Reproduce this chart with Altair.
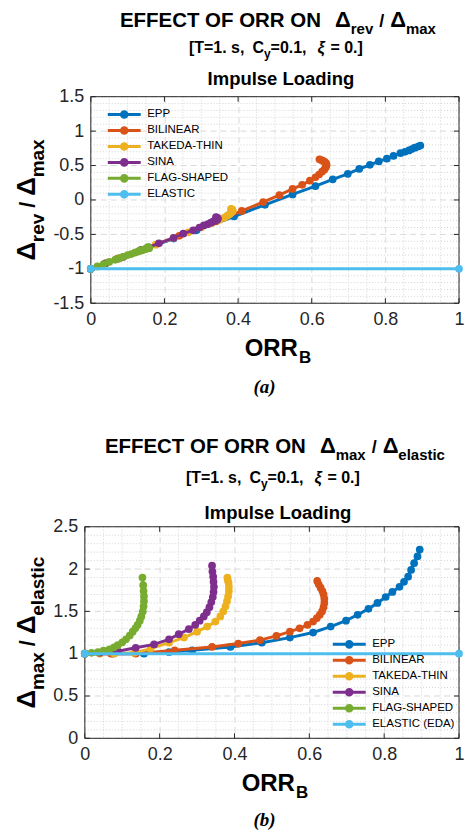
import altair as alt
import pandas as pd

SANS = "Liberation Sans"
SERIF = "Liberation Serif"

# ---------------- data ----------------
names_a = ["EPP", "BILINEAR", "TAKEDA-THIN", "SINA", "FLAG-SHAPED", "ELASTIC"]
names_b = ["EPP", "BILINEAR", "TAKEDA-THIN", "SINA", "FLAG-SHAPED", "ELASTIC (EDA)"]
colors = ["#0072BD", "#D95319", "#EDB120", "#7E2F8E", "#77AC30", "#4DBEEE"]

epp_x = [0.0, 0.075, 0.158, 0.225, 0.287, 0.389, 0.473, 0.548, 0.61, 0.657, 0.698, 0.729,
         0.758, 0.782, 0.804, 0.822, 0.841, 0.853, 0.864, 0.872, 0.88, 0.889, 0.895]
epp_ya = [-1.0, -0.85, -0.69, -0.56, -0.44, -0.24, -0.07, 0.08, 0.20, 0.30, 0.38, 0.45,
          0.51, 0.56, 0.60, 0.64, 0.68, 0.70, 0.72, 0.74, 0.76, 0.775, 0.79]
epp_yb = [1.0, 1.0, 1.0, 1.02, 1.04, 1.08, 1.13, 1.19, 1.25, 1.32, 1.39, 1.46,
          1.53, 1.60, 1.67, 1.73, 1.79, 1.85, 1.91, 1.99, 2.07, 2.15, 2.23]

bil_x = [0.0, 0.07, 0.136, 0.24, 0.34, 0.41, 0.468, 0.512, 0.548, 0.574, 0.595, 0.61,
         0.62, 0.628, 0.634, 0.638, 0.64, 0.64, 0.638, 0.635, 0.63, 0.625, 0.621]
bil_ya = [-1.0, -0.86, -0.73, -0.52, -0.31, -0.16, -0.03, 0.07, 0.16, 0.22, 0.28, 0.33,
          0.37, 0.41, 0.44, 0.47, 0.50, 0.52, 0.54, 0.555, 0.57, 0.58, 0.59]
bil_yb = [1.0, 1.0, 1.0, 1.04, 1.08, 1.12, 1.16, 1.21, 1.26, 1.30, 1.34, 1.38,
          1.42, 1.46, 1.50, 1.55, 1.60, 1.65, 1.70, 1.74, 1.78, 1.82, 1.86]

tak_x = [0.0, 0.04, 0.079, 0.132, 0.176, 0.225, 0.265, 0.30, 0.327, 0.349, 0.362, 0.37,
         0.376, 0.38, 0.383, 0.385, 0.385, 0.384, 0.382, 0.381]
tak_ya = [-1.0, -0.92, -0.84, -0.74, -0.65, -0.55, -0.47, -0.40, -0.34, -0.29, -0.26, -0.23,
          -0.21, -0.19, -0.17, -0.16, -0.15, -0.14, -0.135, -0.13]
tak_yb = [1.0, 1.0, 1.0, 1.01, 1.06, 1.13, 1.19, 1.26, 1.32, 1.38, 1.44, 1.50,
          1.56, 1.62, 1.68, 1.74, 1.79, 1.84, 1.87, 1.90]

sina_x = [0.0, 0.04, 0.088, 0.136, 0.185, 0.225, 0.251, 0.278, 0.295, 0.307, 0.318, 0.326,
          0.333, 0.338, 0.342, 0.344, 0.345, 0.344, 0.343, 0.341, 0.34]
sina_ya = [-1.0, -0.92, -0.83, -0.73, -0.63, -0.55, -0.49, -0.44, -0.40, -0.37, -0.35, -0.33,
           -0.31, -0.30, -0.29, -0.28, -0.27, -0.265, -0.26, -0.255, -0.25]
sina_yb = [1.0, 1.01, 1.03, 1.07, 1.11, 1.17, 1.23, 1.29, 1.34, 1.39, 1.44, 1.49,
           1.55, 1.61, 1.67, 1.73, 1.79, 1.85, 1.91, 1.97, 2.04]

flag_x = [0.0, 0.018, 0.035, 0.05, 0.066, 0.078, 0.088, 0.10, 0.11, 0.12, 0.128, 0.135,
          0.141, 0.147, 0.151, 0.155, 0.157, 0.158, 0.158, 0.157, 0.156, 0.154]
flag_ya = [-1.0, -0.965, -0.93, -0.90, -0.87, -0.845, -0.825, -0.80, -0.785, -0.765, -0.75, -0.735,
           -0.725, -0.715, -0.71, -0.705, -0.70, -0.70, -0.695, -0.695, -0.69, -0.69]
flag_yb = [1.0, 1.01, 1.02, 1.035, 1.05, 1.075, 1.10, 1.135, 1.17, 1.215, 1.26, 1.30,
           1.34, 1.39, 1.44, 1.50, 1.56, 1.62, 1.68, 1.74, 1.81, 1.90]

ela_x = [0.0, 1.0]
ela_ya = [-1.0, -1.0]
ela_yb = [1.0, 1.0]

xs = [epp_x, bil_x, tak_x, sina_x, flag_x, ela_x]
ys_a = [epp_ya, bil_ya, tak_ya, sina_ya, flag_ya, ela_ya]
ys_b = [epp_yb, bil_yb, tak_yb, sina_yb, flag_yb, ela_yb]

x_ticks = [0, 0.2, 0.4, 0.6, 0.8, 1]
ya_ticks = [-1.5, -1, -0.5, 0, 0.5, 1, 1.5]
yb_ticks = [0, 0.5, 1, 1.5, 2, 2.5]

minor_x = [round(k * 0.05, 2) for k in range(1, 20) if k % 4]
minor_ya = [round(-1.5 + k * 0.1, 2) for k in range(1, 30) if k % 5]
minor_yb = [round(k * 0.1, 2) for k in range(1, 25) if k % 5]

# ---------------- helpers ----------------
CW = {'A': .722, 'B': .722, 'C': .722, 'D': .722, 'E': .667, 'F': .611, 'G': .778, 'H': .722,
      'I': .278, 'L': .611, 'M': .833, 'N': .722, 'O': .778, 'P': .667, 'R': .722, 'S': .667,
      'T': .611, 'a': .556, 'c': .556, 'd': .611, 'e': .556, 'g': .611, 'i': .278, 'l': .278,
      'm': .889, 'n': .611, 'o': .611, 'p': .611, 'r': .389, 's': .556, 't': .333, 'u': .611,
      'v': .556, 'x': .556, 'y': .556, '0': .556, '1': .556, ' ': .278, '.': .278, ',': .278,
      '=': .584, '[': .333, ']': .333, '/': .278, 'Δ': .67, 'ξ': .5}


def textw(s, size):
    return sum(CW.get(c, 0.6) for c in s) * size


ONE = pd.DataFrame({"k": [0]})


def txt(text, x, y, size, angle=0, align="left", font=SANS, weight="bold",
        style="normal", color="black"):
    return alt.Chart(ONE).mark_text(
        text=text, x=x, y=y, fontSize=size, fontWeight=weight, fontStyle=style,
        font=font, angle=angle, align=align, baseline="alphabetic", color=color
    ).encode(opacity=alt.value(1))


def hchain(pieces, cx, y):
    total = sum(p[3] + textw(p[0], p[1]) for p in pieces)
    x = cx - total / 2
    out = []
    for p in pieces:
        t, s, dy, g = p[:4]
        st = p[4] if len(p) > 4 else "normal"
        x += g
        out.append(txt(t, x, y + dy, s, style=st))
        x += textw(t, s)
    return out


def vchain(pieces, cy, x):
    total = sum(p[3] + textw(p[0], p[1]) for p in pieces)
    y = cy + total / 2
    out = []
    for t, s, dx, g in pieces:
        y -= g
        out.append(txt(t, x + dx, y, s, angle=270))
        y -= textw(t, s)
    return out


LEG_PATH = ("M-1,0L1,0M0.17,0A0.17,0.17,0,1,1,-0.17,0A0.17,0.17,0,1,1,0.17,0"
            "M0.07,0A0.07,0.07,0,1,1,-0.07,0A0.07,0.07,0,1,1,0.07,0")
GRID = "#d4d4d4"
MAJ = "#d9d9d9"
AX = "#262626"
OX = 91      # page x of the common group origin
RIGHT = 460  # page x of the plot's right edge
W = RIGHT - OX

AXIS_STYLE = dict(title=None, labelFlush=False, labelOverlap=False,
                  labelExpr="toString(datum.value)", labelFont=SANS, labelFontSize=18,
                  labelColor=AX, domain=False, ticks=False, gridColor=MAJ,
                  gridDash=[6, 4], gridWidth=1)


def panel(ys, names, ydom, yticks, yminor, left, oy, H, leg_page, title_pcs, ytitle_pcs,
          caption, cap_y, title_y, sub_y, imp_y, top_page, bottom_page):
    L = left - OX  # plot left edge relative to origin (<= 0)
    xsc = alt.Scale(domain=[0, 1], nice=False, zero=False, range=[L, W])
    ysc = alt.Scale(domain=ydom, nice=False, zero=False)
    csc = alt.Scale(domain=names, range=colors)
    leg = alt.Legend(title=None, orient="none", legendX=leg_page[0] - OX,
                     legendY=leg_page[1] - oy,
                     symbolType=LEG_PATH, symbolSize=1089, symbolStrokeWidth=3,
                     clipHeight=15.7, rowPadding=0, padding=3,
                     labelFont=SANS, labelFontSize=11.5, labelColor="black",
                     labelOffset=5, labelLimit=300)
    xax = alt.Axis(values=x_ticks, labelPadding=7, grid=True, **AXIS_STYLE)
    yax = alt.Axis(values=yticks, labelPadding=7, grid=False, offset=-L, **AXIS_STYLE)

    def X(f):
        return alt.X(f, type="quantitative", scale=xsc, axis=xax, title=None)

    def Y(f):
        return alt.Y(f, type="quantitative", scale=ysc, axis=yax, title=None)

    layers = []
    layers.append(alt.Chart(pd.DataFrame({"v": minor_x})).mark_rule(
        color=GRID, strokeDash=[1, 2], strokeWidth=1).encode(x=X("v")))
    layers.append(alt.Chart(pd.DataFrame({"v": yminor})).mark_rule(
        color=GRID, strokeDash=[1, 2], strokeWidth=1).encode(
        y=Y("v"), x=alt.value(L), x2=alt.value(W)))
    tx = pd.DataFrame({"v": x_ticks})
    ty = pd.DataFrame({"v": yticks})
    layers.append(alt.Chart(ty).mark_rule(
        color=MAJ, strokeDash=[6, 4], strokeWidth=1).encode(
        y=Y("v"), x=alt.value(L), x2=alt.value(W)))
    for a, b in [(H, H - 5), (0, 5)]:
        layers.append(alt.Chart(tx).mark_rule(color=AX, strokeWidth=1).encode(
            x=X("v"), y=alt.value(a), y2=alt.value(b)))
    for a, b in [(L, L + 5), (W - 5, W)]:
        layers.append(alt.Chart(ty).mark_rule(color=AX, strokeWidth=1).encode(
            y=Y("v"), x=alt.value(a), x2=alt.value(b)))
    # plot frame (box)
    for xa, xb, ya, yb in [(L, L, 0, H), (W, W, 0, H), (L, W, 0, 0), (L, W, H, H)]:
        layers.append(alt.Chart(ONE).mark_rule(color=AX, strokeWidth=1).encode(
            x=alt.value(xa), x2=alt.value(xb), y=alt.value(ya), y2=alt.value(yb)))

    for k in range(len(names)):
        df = pd.DataFrame({"x": xs[k], "y": ys[k], "s": names[k],
                           "i": list(range(len(xs[k])))})
        layers.append(alt.Chart(df).mark_line(strokeWidth=3).encode(
            x=X("x"), y=Y("y"), order=alt.Order("i:Q"),
            color=alt.Color("s:N", scale=csc, legend=leg)))
        layers.append(alt.Chart(df).mark_point(filled=True, size=60, opacity=1).encode(
            x=X("x"), y=Y("y"), color=alt.Color("s:N", scale=csc, legend=None)))

    cx = (L + W) / 2 + 3
    layers += hchain(title_pcs, cx, title_y)
    layers += hchain([("[T=1. s,", 16, 0, 0), ("C", 16, 0, 8), ("y", 12, 5, 0),
                      ("=0.1,", 16, 0, 0), ("ξ", 16, 0, 11, "italic"), ("= 0.]", 16, 0, 5)],
                     cx - 2, sub_y)
    layers.append(txt("Impulse Loading", cx + 3, imp_y, 18.5, align="center"))
    layers += vchain(ytitle_pcs, H / 2, 35 - OX)
    layers += hchain([("ORR", 24, 0, 0), ("B", 17, 7, 1)], cx, H + 53)
    layers.append(txt(caption, 265 - OX, cap_y, 19, align="center", font=SERIF,
                      style="italic"))

    for ay in (top_page - oy + 0.5, bottom_page - oy - 0.5):
        layers.append(alt.Chart(ONE).mark_point(size=1, opacity=0, filled=True).encode(
            x=alt.value(-OX + 0.5), y=alt.value(ay)))

    return alt.layer(*layers).properties(
        width=W, height=H, view=alt.ViewBackground(stroke=None))


title_a = [("EFFECT OF ORR ON", 20.5, 0, 0), ("Δ", 22, 0, 14), ("rev", 15, 7, 1),
           ("/", 18, 0, 6), ("Δ", 22, 0, 6), ("max", 15, 7, 1)]
title_b = [("EFFECT OF ORR ON", 20.5, 0, 0), ("Δ", 22, 0, 14), ("max", 15, 7, 1),
           ("/", 18, 0, 6), ("Δ", 22, 0, 6), ("elastic", 15, 7, 1)]
ytitle_a = [("Δ", 26, 0, 0), ("rev", 19, 9, 1), ("/", 22, 0, 6), ("Δ", 26, 0, 6), ("max", 19, 9, 1)]
ytitle_b = [("Δ", 26, 0, 0), ("max", 19, 9, 1), ("/", 22, 0, 6), ("Δ", 26, 0, 6), ("elastic", 19, 9, 1)]

SPLIT = 412  # page y where the second panel begins

top = panel(ys_a, names_a, [-1.5, 1.5], ya_ticks, minor_ya, 91, 96, 207, (103.5, 103),
            title_a, ytitle_a, "(a)", 297, -70, -44, -12, 0, SPLIT)
bottom = panel(ys_b, names_b, [0, 2.5], yb_ticks, minor_yb, 85, 527, 212, (329, 634),
               title_b, ytitle_b, "(b)", 300, -74, -44, -8, SPLIT, 835)

chart = alt.vconcat(top, bottom, spacing=0).resolve_scale(
    color="independent", x="independent", y="independent"
).properties(
    padding={"left": 0, "top": 0, "right": 0, "bottom": 0}, background="white"
).configure_view(stroke=None)

chart.save("out.html", embed_options={"renderer": "svg", "actions": False})
